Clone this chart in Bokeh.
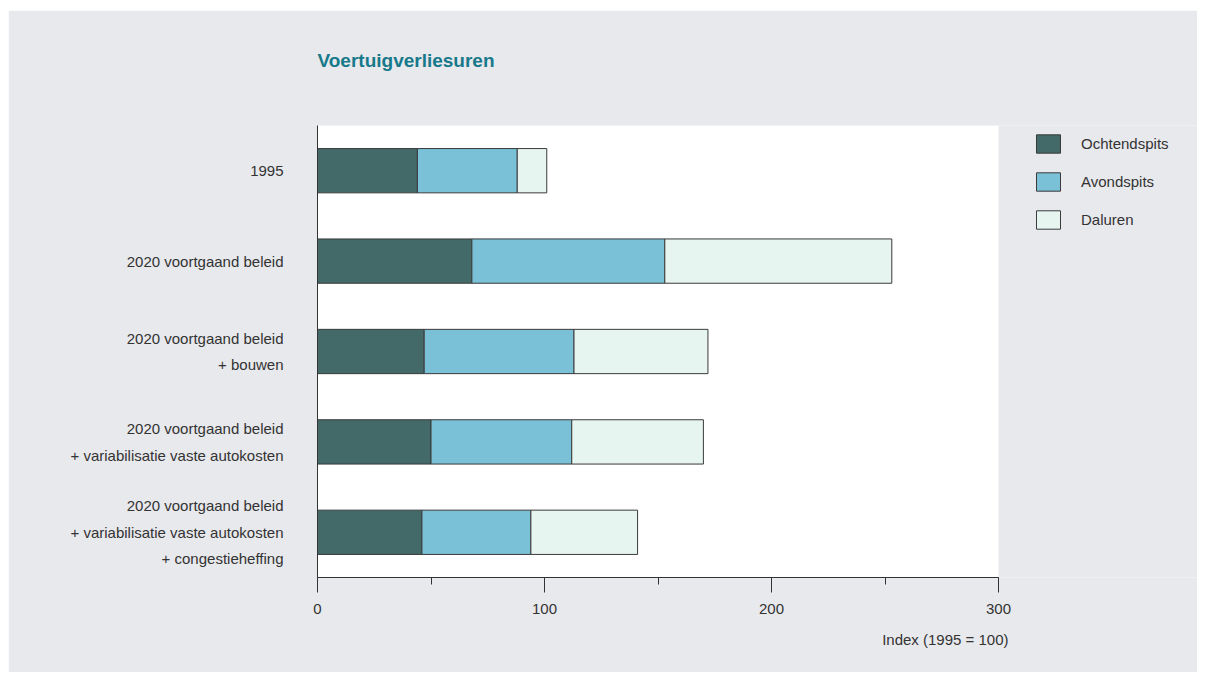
from bokeh.plotting import figure
from bokeh.models import (ColumnDataSource, FactorRange, Range1d, SingleIntervalTicker,
                          Legend, LegendItem, Title, BoxAnnotation)
from bokeh.embed import file_html
from bokeh.resources import INLINE

# ---- data ----
scenarios = [
    "1995",
    "2020 voortgaand beleid",
    "2020 voortgaand beleid\n+ bouwen",
    "2020 voortgaand beleid\n+ variabilisatie vaste autokosten",
    "2020 voortgaand beleid\n+ variabilisatie vaste autokosten\n+ congestieheffing",
]
ochtendspits = [44, 68, 47, 50, 46]
avondspits = [44, 85, 66, 62, 48]
daluren = [13, 100, 59, 58, 47]
series = ["Ochtendspits", "Avondspits", "Daluren"]
colors = ["#436968", "#7ac0d6", "#e7f5f1"]
x_max = 300

FONT = "Liberation Sans"
BG = "#e8e9ed"
TXT = "#333333"

# layout geometry (pixels)
W, H = 1189, 662
LEFT, BOTTOM, TOP = 309, 95, 115
AXIS_W = 681                      # pixel length of 0..300 axis
FRAME_W = W - LEFT                # frame extends to the right edge (legend lives there)
x_end = x_max * FRAME_W / AXIS_W

source = ColumnDataSource(dict(scenario=scenarios, Ochtendspits=ochtendspits,
                               Avondspits=avondspits, Daluren=daluren))

p = figure(width=W, height=H, output_backend="svg", toolbar_location=None,
           title=None,
           y_range=FactorRange(factors=list(reversed(scenarios)), range_padding=0),
           x_range=Range1d(0, x_end),
           min_border_left=LEFT, min_border_right=0, min_border_top=TOP,
           min_border_bottom=BOTTOM)
p.margin = (10, 0, 0, 8)

p.background_fill_color = BG
p.border_fill_color = BG
p.outline_line_color = None
p.xgrid.grid_line_color = None
p.ygrid.grid_line_color = None

# white plotting area from 0 to 300
p.add_layout(BoxAnnotation(left=0, right=x_max, fill_color="white", fill_alpha=1,
                           line_color=None, level="underlay"))

renderers = p.hbar_stack(series, y="scenario", height=0.49, source=source,
                         color=colors, line_color="#3a3a3a", line_width=1)

# title (with a spacer between it and the frame)
p.add_layout(Title(text=" ", text_font_size="34px"), "above")
p.add_layout(Title(text="Voertuigverliesuren", text_font=FONT, text_font_size="19px",
                   text_font_style="bold", text_color="#17798a", align="left"), "above")

# x axis
xa = p.xaxis[0]
xa.ticker = SingleIntervalTicker(interval=100, num_minor_ticks=2)
xa.bounds = (0, x_max)
xa.axis_line_color = "#333333"
xa.major_tick_line_color = "#333333"
xa.minor_tick_line_color = "#333333"
xa.major_tick_in = 0
xa.major_tick_out = 15
xa.minor_tick_in = 0
xa.minor_tick_out = 7
xa.major_label_standoff = 11
xa.major_label_text_font = FONT
xa.major_label_text_font_size = "15px"
xa.major_label_text_color = TXT

p.add_layout(Title(text="Index (1995 = 100)", align="right", text_font=FONT,
                   text_font_size="15px", text_font_style="normal", text_color=TXT,
                   offset=FRAME_W - AXIS_W - 10, standoff=25), "below")

# y axis
ya = p.yaxis[0]
ya.axis_line_color = "#333333"
ya.major_tick_line_color = None
ya.minor_tick_line_color = None
ya.major_label_standoff = 28
ya.major_label_text_font = FONT
ya.major_label_text_font_size = "15px"
ya.major_label_text_color = TXT
ya.major_label_text_line_height = 1.55

# legend, to the right of the white area
legend = Legend(items=[LegendItem(label=s, renderers=[r]) for s, r in zip(series, renderers)],
                location=(AXIS_W + 35, 346), orientation="vertical",
                glyph_width=30, glyph_height=23, label_standoff=18, spacing=15,
                padding=0, margin=0, border_line_color=None, background_fill_alpha=0,
                label_text_font=FONT, label_text_font_size="15px", label_text_color=TXT)
p.add_layout(legend, "center")

open("out.html", "w").write(file_html(p, INLINE))
